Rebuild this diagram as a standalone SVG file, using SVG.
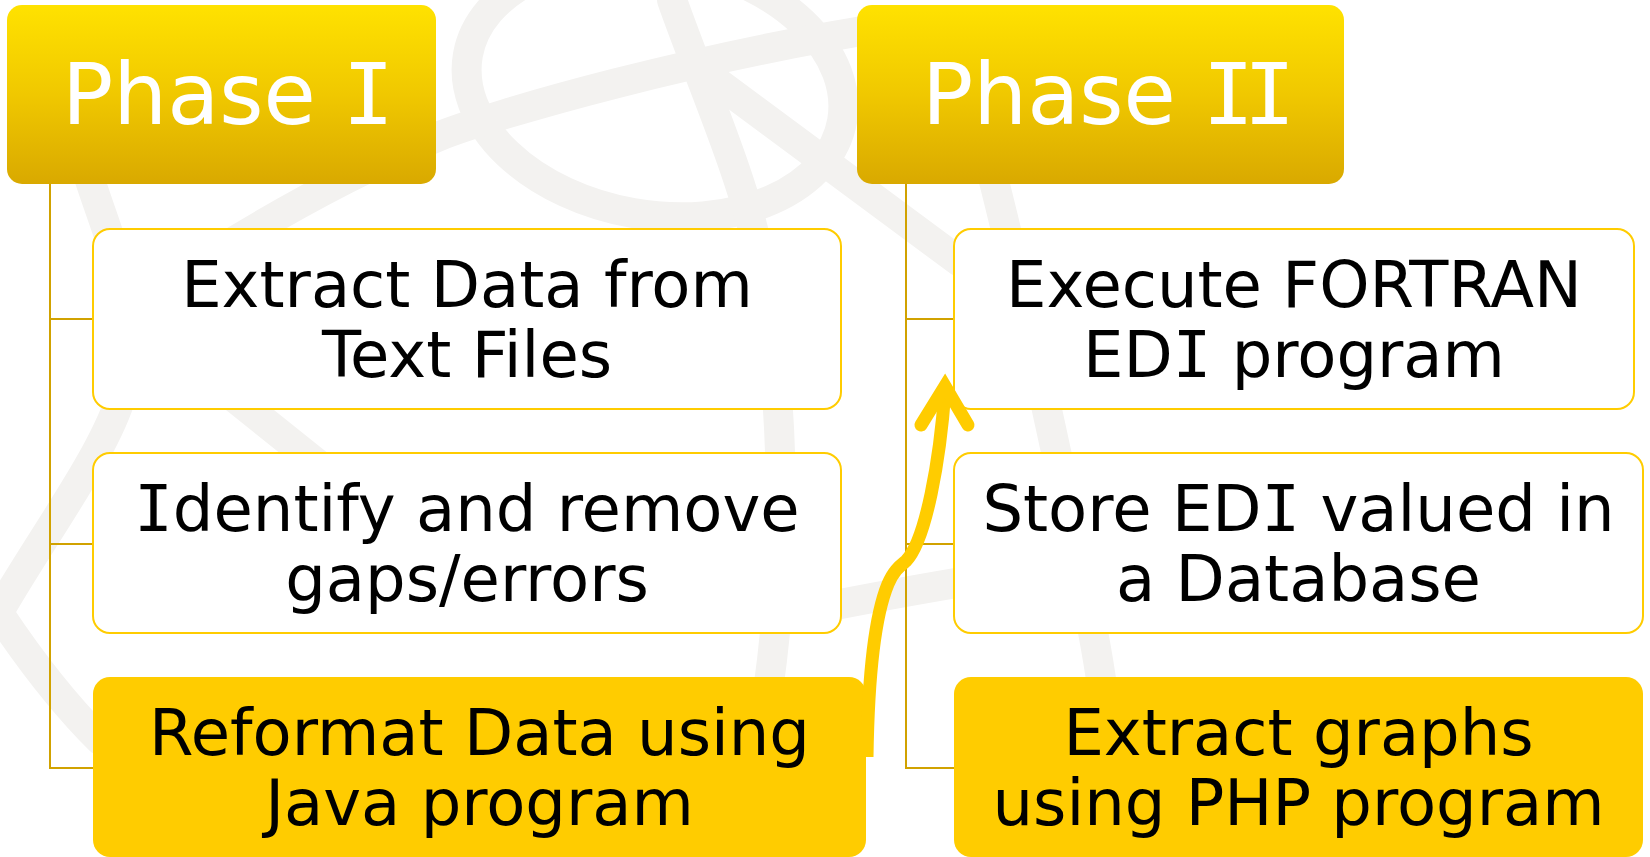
<svg xmlns="http://www.w3.org/2000/svg" width="1650" height="857" viewBox="0 0 1650 857">
  <defs>
    <linearGradient id="phaseFill" x1="0" y1="0" x2="0" y2="1">
      <stop offset="0" stop-color="#FFE200"/>
      <stop offset="0.5" stop-color="#F0C800"/>
      <stop offset="1" stop-color="#D9A900"/>
    </linearGradient>
    <style>
      .band { fill: none; stroke: #F3F2F0; stroke-width: 30; stroke-linecap: round; }
      .phase { fill: url(#phaseFill); }
      .phase-text { font-family: "DejaVu Sans", Verdana, sans-serif; font-size: 85px; fill: #FFFFFF; }
      .step { fill: #FFFFFF; stroke: #FFCC00; stroke-width: 2; }
      .step-hot { fill: #FFCC00; }
      .step-text { font-family: "DejaVu Sans", Verdana, sans-serif; font-size: 64px; fill: #000000; text-anchor: middle; }
      .slab { font-family: "DejaVu Sans Mono", "DejaVu Sans", monospace; }
      .link { fill: none; stroke: #D1A200; stroke-width: 2; }
      .flow { fill: none; stroke: #FFCC00; stroke-width: 13; }
    </style>
  </defs>

  <rect width="1650" height="857" fill="#FFFFFF"/>

  <!-- faint globe-like swirl behind everything -->
  <g id="backdrop">
    <ellipse class="band" cx="655" cy="88" rx="190" ry="127" transform="rotate(10 655 88)"/>
    <path class="band" d="M 200 262 C 300 200 380 160 437 137 S 700 55 900 25"/>
    <path class="band" d="M 672 0 C 700 80 745 180 760 260 S 792 500 772 660 S 740 800 720 857"/>
    <path class="band" d="M 690 62 L 960 262"/>
    <path class="band" d="M 960 60 C 990 150 1030 330 1060 470 S 1110 700 1120 857"/>
    <path class="band" stroke-linecap="butt" d="M 820 608 C 900 592 1000 575 1100 560"/>
    <path class="band" d="M 75 130 C 100 230 150 300 120 400 C 100 460 40 540 0 610"/>
    <path class="band" d="M 150 330 L 400 530"/>
    <path class="band" d="M 0 615 C 30 660 60 700 100 740"/>
  </g>

  <!-- tree connectors from each phase header to its steps -->
  <g id="connectors">
    <path class="link" d="M 50 184 V 768 H 93 M 50 319 H 93 M 50 544 H 93"/>
    <path class="link" d="M 906 184 V 768 H 954 M 906 319 H 954 M 906 544 H 954"/>
  </g>

  <g id="phase1">
    <rect class="phase" x="7" y="5" width="429" height="179" rx="15"/>
    <text class="phase-text" x="62" y="124">Phase <tspan class="slab">I</tspan></text>
  </g>
  <g id="phase2">
    <rect class="phase" x="857" y="5" width="487" height="179" rx="15"/>
    <text class="phase-text" x="922" y="124">Phase <tspan class="slab" letter-spacing="-10">II</tspan></text>
  </g>

  <g id="extract-data">
    <rect class="step" x="93" y="229" width="748" height="180" rx="17"/>
    <text class="step-text" x="467" y="307">Extract Data from</text>
    <text class="step-text" x="467" y="377">Text Files</text>
  </g>
  <g id="identify-gaps">
    <rect class="step" x="93" y="453" width="748" height="180" rx="17"/>
    <text class="step-text" x="467" y="531"><tspan class="slab">I</tspan>dentify and remove</text>
    <text class="step-text" x="467" y="601">gaps/errors</text>
  </g>
  <g id="reformat-data">
    <rect class="step-hot" x="93" y="677" width="773" height="180" rx="17"/>
    <text class="step-text" x="479.5" y="755">Reformat Data using</text>
    <text class="step-text" x="479.5" y="825">Java program</text>
  </g>

  <g id="execute-fortran">
    <rect class="step" x="954" y="229" width="680" height="180" rx="17"/>
    <text class="step-text" x="1294" y="307">Execute FORTRAN</text>
    <text class="step-text" x="1294" y="377">ED<tspan class="slab">I</tspan> program</text>
  </g>
  <g id="store-edi">
    <rect class="step" x="954" y="453" width="689" height="180" rx="17"/>
    <text class="step-text" x="1298.5" y="531">Store ED<tspan class="slab">I</tspan> valued in</text>
    <text class="step-text" x="1298.5" y="601">a Database</text>
  </g>
  <g id="extract-graphs">
    <rect class="step-hot" x="954" y="677" width="689" height="180" rx="17"/>
    <text class="step-text" x="1298.5" y="755">Extract graphs</text>
    <text class="step-text" x="1298.5" y="825">using PHP program</text>
  </g>

  <!-- hand-off arrow from Phase I to Phase II -->
  <g id="handoff">
    <path class="flow" stroke-linecap="butt" d="M 867 757 C 868 690 873 620 888 584 C 894 570 900 566 906 561 C 926 540 940 460 945 390"/>
    <path class="flow" stroke-linecap="round" stroke-linejoin="miter" d="M 921 425 L 945 386 L 968 425"/>
  </g>
</svg>
